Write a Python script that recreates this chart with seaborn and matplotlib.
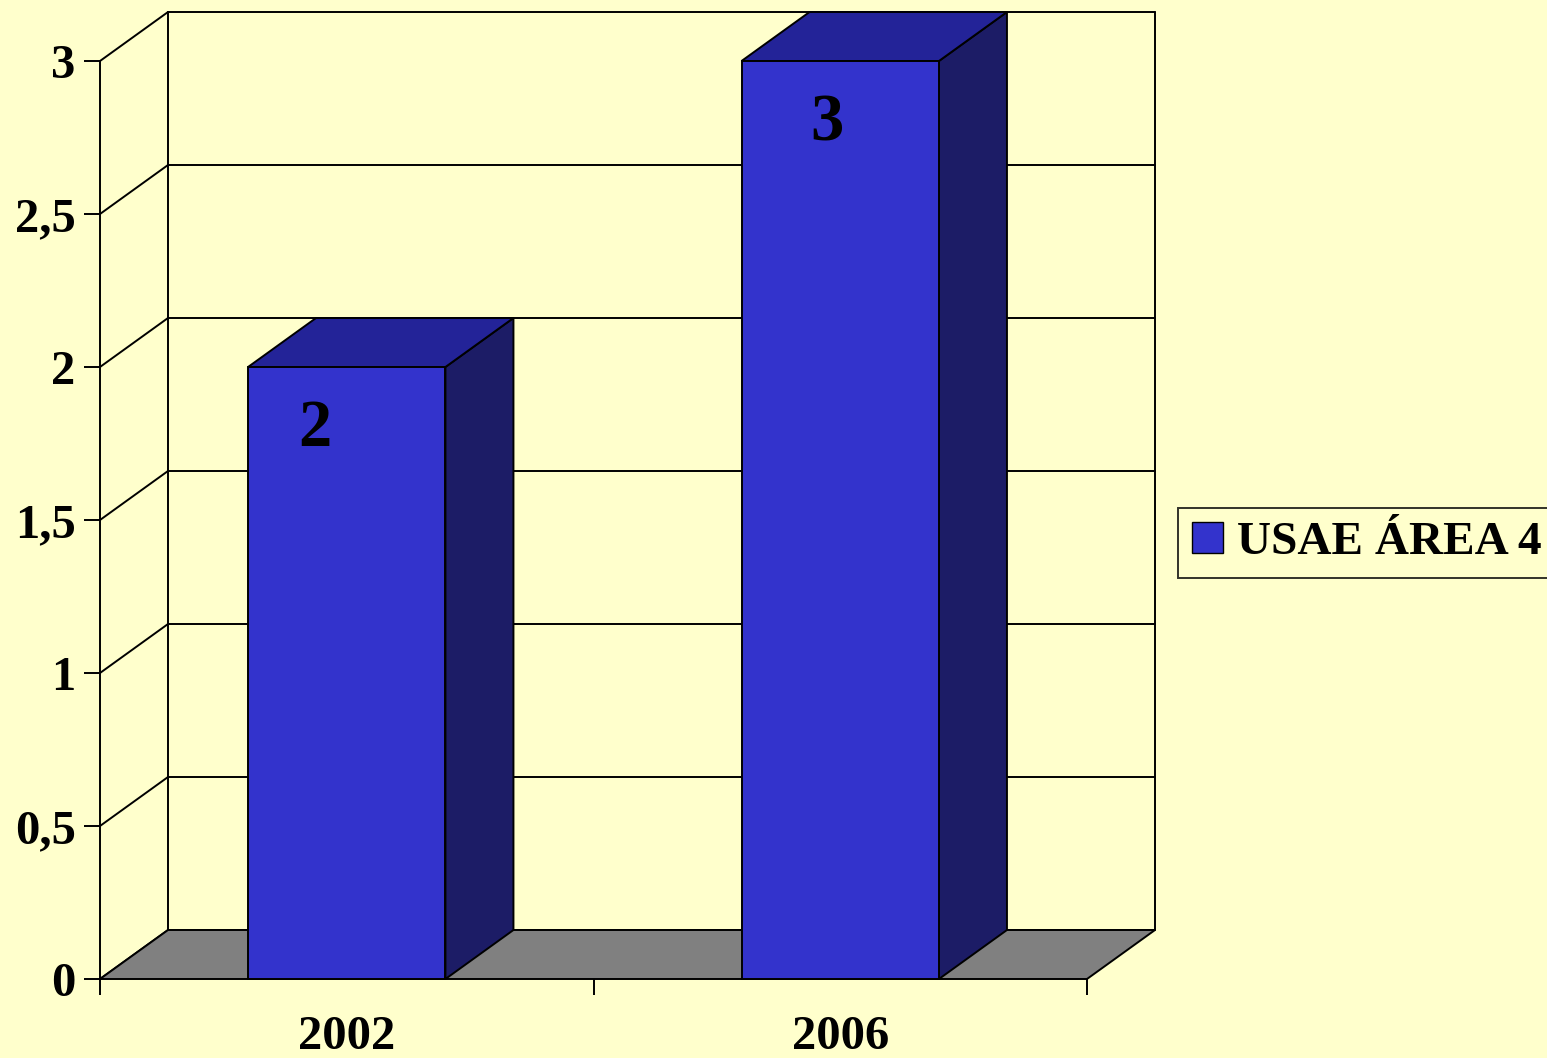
import matplotlib
matplotlib.use("Agg")
import matplotlib.pyplot as plt
import matplotlib.transforms as mtransforms
from matplotlib.patches import Polygon, Patch
from matplotlib.ticker import FuncFormatter
import seaborn as sns

# dati
anni = ["2002", "2006"]
valori = [2, 3]
serie = "USAE ÁREA 4"
y_ticks = [0, 0.5, 1, 1.5, 2, 2.5, 3]

# colori
sfondo = "#FFFFCC"
blu_fronte = "#3333CC"
blu_sopra = "#232398"
blu_lato = "#1C1C66"
grigio = "#808080"

sns.set_style("white")
plt.rcParams["font.family"] = ["Liberation Serif", "DejaVu Serif"]
plt.rcParams["font.weight"] = "bold"
plt.rcParams["text.color"] = "black"
plt.rcParams["xtick.color"] = "black"
plt.rcParams["ytick.color"] = "black"

W, H = 1547, 1058
fig = plt.figure(figsize=(W / 100, H / 100), dpi=100)
fig.patch.set_facecolor(sfondo)

# area del piano frontale in pixel
x0, x1, y0, y1 = 100, 1087, 979, 61
ax = fig.add_axes([x0 / W, 1 - y0 / H, (x1 - x0) / W, (y0 - y1) / H])
ax.set_facecolor("none")
ax.set_xlim(-0.5, 1.5)
ax.set_ylim(0, 3)

# profondità 3D in unità dati
dx = 68 / (x1 - x0) * 2
dy = 49 / (y0 - y1) * 3
lw = 1.4
xmin, xmax = -0.5, 1.5
ymax = 3

# parete di fondo e griglia
for v in y_ticks:
    ax.plot([xmin + dx, xmax + dx], [v + dy, v + dy], color="black", lw=lw, clip_on=False, zorder=1)
    ax.plot([xmin, xmin + dx], [v, v + dy], color="black", lw=lw, clip_on=False, zorder=1)
ax.plot([xmin + dx, xmin + dx], [dy, ymax + dy], color="black", lw=lw, clip_on=False, zorder=1)
ax.plot([xmax + dx, xmax + dx], [dy, ymax + dy], color="black", lw=lw, clip_on=False, zorder=1)

# pavimento
ax.add_patch(Polygon([(xmin, 0), (xmax, 0), (xmax + dx, dy), (xmin + dx, dy)],
                     closed=True, facecolor=grigio, edgecolor="black", lw=lw, clip_on=False, zorder=2))

# barre frontali con seaborn
sns.barplot(x=anni, y=valori, width=0.4, color=blu_fronte, saturation=1,
            edgecolor="black", linewidth=lw, ax=ax, zorder=4)

# lati e tetti delle barre
for p in list(ax.patches):
    if isinstance(p, Polygon):
        continue
    bx, bw, bh = p.get_x(), p.get_width(), p.get_height()
    p.set_clip_on(False)
    ax.add_patch(Polygon([(bx + bw, 0), (bx + bw + dx, dy), (bx + bw + dx, bh + dy), (bx + bw, bh)],
                         closed=True, facecolor=blu_lato, edgecolor="black", lw=lw, clip_on=False, zorder=3))
    ax.add_patch(Polygon([(bx, bh), (bx + bw, bh), (bx + bw + dx, bh + dy), (bx + dx, bh + dy)],
                         closed=True, facecolor=blu_sopra, edgecolor="black", lw=lw, clip_on=False, zorder=3))

# etichette dati
spost_x = [-32, -13]
for i, (a, v) in enumerate(zip(anni, valori)):
    tr = mtransforms.offset_copy(ax.transData, fig=fig, x=spost_x[i], y=-63, units="dots")
    ax.text(i, v, str(v), transform=tr, ha="center", va="center",
            fontsize=48, fontweight="bold", color="black", zorder=6)

# assi
for s in ["top", "right", "bottom"]:
    ax.spines[s].set_visible(False)
ax.spines["left"].set_color("black")
ax.spines["left"].set_linewidth(lw)
ax.spines["left"].set_zorder(5)

ax.set_yticks(y_ticks)
ax.yaxis.set_major_formatter(FuncFormatter(lambda v, _: f"{v:g}".replace(".", ",")))
ax.tick_params(axis="y", left=True, length=11.5, width=lw, color="black",
               labelcolor="black", pad=6, labelsize=35)
ax.set_xticks([0, 1])
ax.set_xticklabels(anni)
ax.tick_params(axis="x", which="major", bottom=True, length=0, pad=26,
               labelcolor="black", labelsize=35)
ax.set_xticks([-0.5, 0.5, 1.5], minor=True)
ax.tick_params(axis="x", which="minor", bottom=True, length=11.5, width=lw, color="black")
for t in ax.get_xticklabels() + ax.get_yticklabels():
    t.set_fontweight("bold")
ax.set_xlabel("")
ax.set_ylabel("")

# legenda
leg = fig.legend(handles=[Patch(facecolor=blu_fronte, edgecolor="black", label=serie)],
                 loc="center left", bbox_to_anchor=(1178 / W, 1 - 543 / H),
                 frameon=True, fancybox=False, edgecolor="black", facecolor=sfondo,
                 prop={"size": 34, "weight": "bold"}, handlelength=0.65, handleheight=0.65,
                 handletextpad=0.3, borderpad=0.3, borderaxespad=0)
leg.get_frame().set_linewidth(lw)
for t in leg.get_texts():
    t.set_color("black")

fig.savefig("out.png", dpi=100, facecolor=sfondo)
